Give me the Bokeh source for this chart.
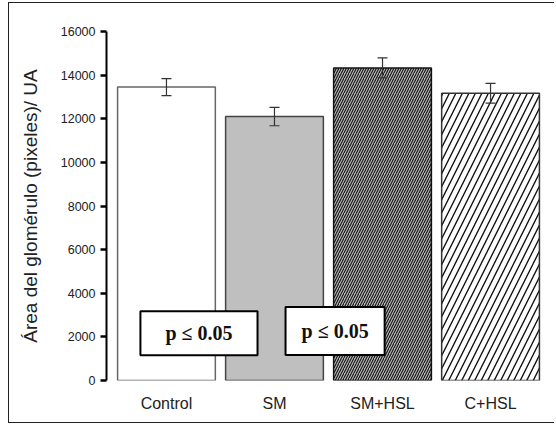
from bokeh.plotting import figure
from bokeh.models import (ColumnDataSource, Whisker, TeeHead, Label, FactorRange,
                          FixedTicker, Range1d)
from bokeh.embed import file_html
from bokeh.resources import INLINE

# ---- data ----
categories = ["Control", "SM", "SM+HSL", "C+HSL"]
areas = [13450, 12100, 14330, 13170]
errors = [390, 420, 460, 450]
y_ticks = [0, 2000, 4000, 6000, 8000, 10000, 12000, 14000, 16000]
p_text = "p \u2264 0.05"

# ---- styles (one per bar) ----
bar_styles = [
    dict(fill_color="white", line_color="#666666"),
    dict(fill_color="#bfbfbf", line_color="#444444"),
    dict(fill_color="#b5b5b5", line_color="#111111", hatch_pattern="/",
         hatch_color="#111111", hatch_scale=5, hatch_weight=1.1),
    dict(fill_color="white", line_color="#333333", hatch_pattern="/",
         hatch_color="#111111", hatch_scale=13, hatch_weight=1.4),
]

p = figure(
    x_range=FactorRange(*categories, range_padding=0.055, range_padding_units="absolute"),
    y_range=Range1d(0, 16000),
    width=546, height=421,
    min_border_left=97, min_border_right=5, min_border_top=28, min_border_bottom=44,
    output_backend="svg", toolbar_location=None,
)
p.styles = {
    "border-left": "1.5px solid #222",
    "border-top": "1.5px solid #222",
    "border-bottom": "1.5px solid #222",
    "margin-left": "8px",
    "margin-top": "2px",
}
p.outline_line_color = None
p.xgrid.grid_line_color = None
p.ygrid.grid_line_color = None

for cat, val, st in zip(categories, areas, bar_styles):
    src = ColumnDataSource(dict(x=[cat], top=[val]))
    p.vbar(x="x", top="top", bottom=0, width=0.905, source=src, line_width=1.5, **st)

err_src = ColumnDataSource(dict(
    x=categories,
    upper=[a + e for a, e in zip(areas, errors)],
    lower=[a - e for a, e in zip(areas, errors)],
))
p.add_layout(Whisker(
    base="x", upper="upper", lower="lower", source=err_src,
    line_color="#333333", line_width=1.2, level="annotation",
    upper_head=TeeHead(size=10, line_color="#333333", line_width=1.2),
    lower_head=TeeHead(size=10, line_color="#333333", line_width=1.2),
))

# y axis
p.yaxis.ticker = FixedTicker(ticks=y_ticks)
p.yaxis.axis_line_width = 2
p.yaxis.axis_line_color = "black"
p.yaxis.major_tick_line_width = 2.5
p.yaxis.major_tick_line_color = "black"
p.yaxis.major_tick_out = 6
p.yaxis.major_tick_in = 0
p.yaxis.minor_tick_line_color = None
p.yaxis.major_label_text_font = "Liberation Sans"
p.yaxis.major_label_text_font_size = "12.5px"
p.yaxis.major_label_text_color = "#222222"
p.yaxis.major_label_standoff = 5
p.yaxis.axis_label = "\u00c1rea del glom\u00e9rulo (pixeles)/ UA"
p.yaxis.axis_label_text_font = "Liberation Sans"
p.yaxis.axis_label_text_font_size = "19px"
p.yaxis.axis_label_text_font_style = "normal"
p.yaxis.axis_label_text_color = "#222222"
p.yaxis.axis_label_standoff = 17

# x axis
p.xaxis.axis_line_color = None
p.xaxis.major_tick_line_color = None
p.xaxis.minor_tick_line_color = None
p.xaxis.major_label_text_font = "Liberation Sans"
p.xaxis.major_label_text_font_size = "16px"
p.xaxis.major_label_text_color = "#222222"
p.xaxis.major_label_standoff = 8

for lx, ly, pad in [(0.801, 2162, dict(left=25, right=25, top=11, bottom=11)),
                    (2.061, 2274, dict(left=16, right=16, top=13, bottom=13))]:
    p.add_layout(Label(
        x=lx, y=ly, text=p_text, text_font="Liberation Serif", text_font_style="bold",
        text_font_size="20px", text_color="#111111", text_align="center",
        text_baseline="middle", background_fill_color="white",
        border_line_color="black", border_line_width=2, padding=pad,
    ))

open("out.html", "w").write(file_html(p, INLINE))
